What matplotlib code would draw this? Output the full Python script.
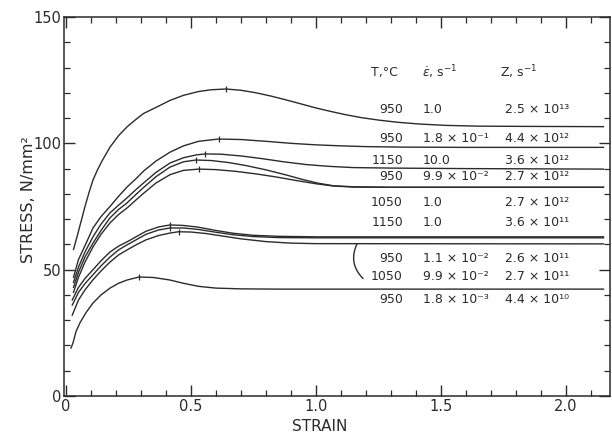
import numpy as np
import matplotlib
matplotlib.use("Agg")
import matplotlib.pyplot as plt
from matplotlib.ticker import MultipleLocator, FixedLocator

plt.rcParams['font.family'] = ['DejaVu Sans']

# ---- data (strain, stress N/mm^2) ----
s1 = [0.03, 0.044, 0.06, 0.076, 0.092, 0.108, 0.126, 0.144, 0.176, 0.21, 0.244, 0.28, 0.31, 0.345, 0.376, 0.416,
      0.47, 0.53, 0.58, 0.64, 0.70, 0.76, 0.82, 0.88, 0.94, 1.00, 1.06, 1.12, 1.18, 1.25, 1.33, 1.42, 1.52, 1.65, 1.85, 2.15]
c1 = [58, 63, 69, 75, 80.5, 85.5, 89.5, 93, 98.5, 103, 106.5, 109.5, 111.8, 113.5, 115, 117,
      119, 120.5, 121.2, 121.5, 121, 120, 118.7, 117.2, 115.6, 114, 112.6, 111.3, 110.2, 109.2, 108.3, 107.6, 107.1, 106.8, 106.7, 106.6]

s2 = [0.03, 0.05, 0.076, 0.108, 0.14, 0.176, 0.21, 0.244, 0.28, 0.31, 0.36, 0.416, 0.47, 0.53, 0.61, 0.70,
      0.80, 0.90, 1.00, 1.10, 1.20, 1.35, 1.60, 2.15]
c2 = [47, 54, 59.5, 66.5, 71, 75, 79, 82.7, 86, 89, 93, 96.5, 99, 100.8, 101.7, 101.5,
      100.8, 100, 99.4, 99, 98.7, 98.5, 98.4, 98.4]

s3 = [0.03, 0.05, 0.076, 0.108, 0.14, 0.176, 0.21, 0.244, 0.28, 0.31, 0.36, 0.416, 0.47, 0.52, 0.556, 0.62,
      0.70, 0.78, 0.87, 0.96, 1.05, 1.15, 1.30, 1.60, 2.15]
c3 = [45, 51, 57, 63, 68, 72.5, 75.5, 78.4, 81.7, 84.3, 88.5, 92.2, 94.3, 95.4, 95.8, 95.7,
      95.0, 94.0, 92.7, 91.6, 90.9, 90.4, 90.2, 90.0, 89.8]

s4 = [0.03, 0.05, 0.076, 0.108, 0.14, 0.176, 0.21, 0.244, 0.28, 0.31, 0.36, 0.416, 0.47, 0.52, 0.58, 0.65,
      0.72, 0.80, 0.88, 0.95, 1.01, 1.07, 1.15, 1.30, 2.15]
c4 = [43, 49, 55, 60.5, 65.5, 70.5, 73.8, 76.4, 79.8, 82.5, 86.8, 90.6, 92.7, 93.4, 93.2, 92.4,
      91.2, 89.5, 87.5, 85.6, 84.2, 83.2, 82.8, 82.6, 82.6]

s5 = [0.03, 0.05, 0.076, 0.108, 0.14, 0.176, 0.21, 0.244, 0.28, 0.31, 0.36, 0.416, 0.47, 0.53, 0.60, 0.68,
      0.76, 0.84, 0.92, 1.00, 1.07, 1.15, 1.30, 2.15]
c5 = [41, 47, 53, 59, 64, 68.5, 71.8, 74.4, 77.6, 80.2, 84.3, 87.6, 89.3, 89.8, 89.6, 88.9,
      87.9, 86.7, 85.3, 84.0, 83.1, 82.7, 82.6, 82.6]

s6 = [0.025, 0.05, 0.076, 0.108, 0.14, 0.176, 0.21, 0.244, 0.28, 0.32, 0.37, 0.416, 0.47, 0.53, 0.60, 0.67,
      0.75, 0.85, 1.00, 2.15]
c6 = [38, 43, 46.5, 50, 53.5, 57, 59.3, 61, 63, 65.2, 66.9, 67.7, 67.5, 66.8, 65.5, 64.4,
      63.6, 63.2, 63.0, 63.0]
c7 = [36, 41, 44.5, 48, 51.5, 55, 57.8, 59.8, 61.8, 64, 65.7, 66.5, 66.5, 65.9, 64.8, 63.8,
      63.1, 62.7, 62.6, 62.6]

s8 = [0.025, 0.05, 0.076, 0.108, 0.14, 0.176, 0.21, 0.244, 0.28, 0.32, 0.37, 0.416, 0.45, 0.50, 0.56, 0.62,
      0.70, 0.80, 0.90, 1.00, 2.15]
c8 = [32, 38, 42, 46, 49.5, 53, 55.8, 57.8, 59.8, 61.8, 63.5, 64.5, 65, 64.9, 64.3, 63.4,
      62.2, 61.1, 60.5, 60.3, 60.2]

s9 = [0.02, 0.028, 0.04, 0.056, 0.08, 0.108, 0.14, 0.176, 0.21, 0.244, 0.292, 0.35, 0.416, 0.47, 0.53, 0.60,
      0.70, 0.85, 2.15]
c9 = [19, 21, 25.5, 29, 33, 36.8, 40, 42.7, 44.6, 45.9, 47.1, 46.9, 45.9, 44.6, 43.4, 42.7,
      42.4, 42.3, 42.3]

curves = [(s1, c1), (s2, c2), (s3, c3), (s4, c4), (s5, c5),
          (s6, c6), (s6, c7), (s8, c8), (s9, c9)]

temps = ["950", "950", "1150", "950", "1050", "1150", "950", "1050", "950"]
rates = ["1.0", "1.8 × 10⁻¹", "10.0", "9.9 × 10⁻²", "1.0", "1.0",
         "1.1 × 10⁻²", "9.9 × 10⁻²", "1.8 × 10⁻³"]
zvals = ["2.5 × 10¹³", "4.4 × 10¹²", "3.6 × 10¹²", "2.7 × 10¹²", "2.7 × 10¹²",
         "3.6 × 10¹¹", "2.6 × 10¹¹", "2.7 × 10¹¹", "4.4 × 10¹⁰"]
row_y = [113.2, 102.1, 93.4, 86.7, 76.4, 68.5, 54.6, 47.1, 38.0]

xticks = [0, 0.5, 1.0, 1.5, 2.0]
xticklabels = ["0", "0.5", "1.0", "1.5", "2.0"]
yticks = [0, 50, 100, 150]
yticklabels = ["0", "50", "100", "150"]

# ---- figure ----
fig = plt.figure(figsize=(6.12, 4.41), dpi=100)
ax = fig.add_axes([64/612, 1-396/441, (610-64)/612, (396-17)/441])
ink = '#2b2b2b'

for s, c in curves:
    ax.plot(s, c, color=ink, lw=1.0, solid_joinstyle='round')
    i = int(np.argmax(c))
    ax.plot([s[i]], [c[i]], marker='|', ms=5, mew=0.9, color=ink)

ax.set_xlim(-0.008, 2.176)
ax.set_ylim(0, 150)

ax.xaxis.set_major_locator(FixedLocator(xticks))
ax.set_xticklabels(xticklabels)
ax.xaxis.set_minor_locator(MultipleLocator(0.1))
ax.yaxis.set_major_locator(FixedLocator(yticks))
ax.set_yticklabels(yticklabels)
ax.yaxis.set_minor_locator(MultipleLocator(10))

ax.tick_params(which='both', direction='in', top=True, right=True, colors=ink)
ax.tick_params(which='major', length=8, width=1.0, labelsize=10.5, pad=2)
ax.tick_params(which='minor', length=4, width=0.9)
for sp in ax.spines.values():
    sp.set_color(ink)
    sp.set_linewidth(1.1)

ax.set_xlabel("STRAIN", fontsize=11, color=ink)
ax.set_ylabel("STRESS, N/mm²", fontsize=11.5, color=ink)
ax.xaxis.set_label_coords(0.469, -0.062)
ax.yaxis.set_label_coords(-0.052, 0.517)

# table of conditions
fs = 9
ax.text(1.22, 128.2, "T,°C", fontsize=fs, color=ink, va='center')
ax.text(1.424, 128.2, r"$\dot{\varepsilon}$, s$^{-1}$", fontsize=fs, color=ink, va='center')
ax.text(1.736, 128.2, "Z, s$^{-1}$", fontsize=fs, color=ink, va='center')
for t, r, z, y in zip(temps, rates, zvals, row_y):
    ax.text(1.348, y, t, fontsize=fs, color=ink, va='center', ha='right')
    ax.text(1.428, y, r, fontsize=fs, color=ink, va='center', ha='left')
    ax.text(1.756, y, z, fontsize=fs, color=ink, va='center', ha='left')

# bracket joining two rows to one curve
ax.annotate("", xy=(1.188, 46.5), xytext=(1.164, 60.2),
            arrowprops=dict(arrowstyle='-', color=ink, lw=1.0,
                            shrinkA=0, shrinkB=0,
                            connectionstyle='arc3,rad=0.35'))

fig.savefig("out.png", dpi=100)
